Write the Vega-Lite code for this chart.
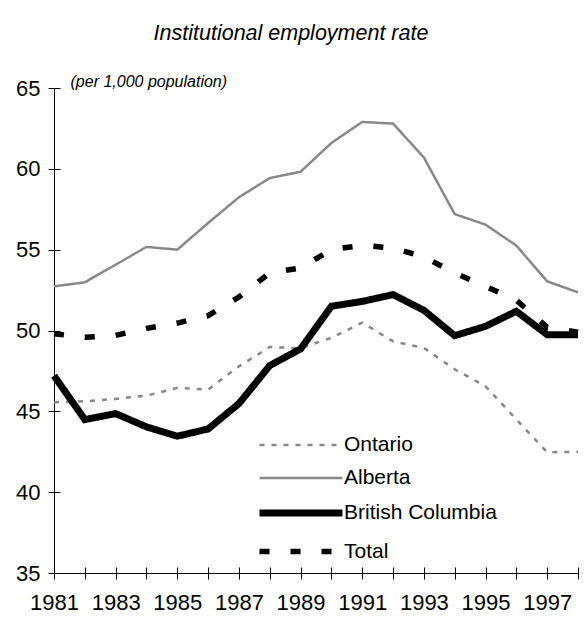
{
  "$schema": "https://vega.github.io/schema/vega-lite/v6.json",
  "width": 524,
  "height": 485,
  "autosize": "none",
  "padding": {"left": 54, "top": 88, "right": 7, "bottom": 45},
  "background": "white",
  "title": {
    "text": "Institutional employment rate",
    "font": "Liberation Sans",
    "fontSize": 21.5,
    "fontStyle": "italic",
    "fontWeight": "normal",
    "color": "#000000",
    "anchor": "middle",
    "frame": "group",
    "dx": -25,
    "offset": 29
  },
  "config": {
    "view": {"stroke": null},
    "font": "Liberation Sans",
    "axis": {
      "domainColor": "#000000",
      "tickColor": "#000000",
      "labelColor": "#000000",
      "labelFont": "Liberation Sans",
      "labelFontSize": 22,
      "grid": false,
      "tickSize": 6,
      "domainWidth": 1,
      "tickWidth": 1
    }
  },
  "data": {
    "values": [
      {"year": 1981, "region": "Ontario", "value": 45.56},
      {"year": 1982, "region": "Ontario", "value": 45.62},
      {"year": 1983, "region": "Ontario", "value": 45.77},
      {"year": 1984, "region": "Ontario", "value": 45.97},
      {"year": 1985, "region": "Ontario", "value": 46.45},
      {"year": 1986, "region": "Ontario", "value": 46.34},
      {"year": 1987, "region": "Ontario", "value": 47.78},
      {"year": 1988, "region": "Ontario", "value": 48.98},
      {"year": 1989, "region": "Ontario", "value": 48.9},
      {"year": 1990, "region": "Ontario", "value": 49.55},
      {"year": 1991, "region": "Ontario", "value": 50.49},
      {"year": 1992, "region": "Ontario", "value": 49.33},
      {"year": 1993, "region": "Ontario", "value": 48.92},
      {"year": 1994, "region": "Ontario", "value": 47.6},
      {"year": 1995, "region": "Ontario", "value": 46.55},
      {"year": 1996, "region": "Ontario", "value": 44.5},
      {"year": 1997, "region": "Ontario", "value": 42.47},
      {"year": 1998, "region": "Ontario", "value": 42.5},
      {"year": 1981, "region": "Alberta", "value": 52.73},
      {"year": 1982, "region": "Alberta", "value": 52.98},
      {"year": 1983, "region": "Alberta", "value": 54.07},
      {"year": 1984, "region": "Alberta", "value": 55.17},
      {"year": 1985, "region": "Alberta", "value": 55.0},
      {"year": 1986, "region": "Alberta", "value": 56.65},
      {"year": 1987, "region": "Alberta", "value": 58.24},
      {"year": 1988, "region": "Alberta", "value": 59.43},
      {"year": 1989, "region": "Alberta", "value": 59.82},
      {"year": 1990, "region": "Alberta", "value": 61.6},
      {"year": 1991, "region": "Alberta", "value": 62.9},
      {"year": 1992, "region": "Alberta", "value": 62.8},
      {"year": 1993, "region": "Alberta", "value": 60.7},
      {"year": 1994, "region": "Alberta", "value": 57.2},
      {"year": 1995, "region": "Alberta", "value": 56.55},
      {"year": 1996, "region": "Alberta", "value": 55.25},
      {"year": 1997, "region": "Alberta", "value": 53.04},
      {"year": 1998, "region": "Alberta", "value": 52.36},
      {"year": 1981, "region": "British Columbia", "value": 47.2},
      {"year": 1982, "region": "British Columbia", "value": 44.49},
      {"year": 1983, "region": "British Columbia", "value": 44.86},
      {"year": 1984, "region": "British Columbia", "value": 44.04},
      {"year": 1985, "region": "British Columbia", "value": 43.46},
      {"year": 1986, "region": "British Columbia", "value": 43.91},
      {"year": 1987, "region": "British Columbia", "value": 45.48},
      {"year": 1988, "region": "British Columbia", "value": 47.83},
      {"year": 1989, "region": "British Columbia", "value": 48.86},
      {"year": 1990, "region": "British Columbia", "value": 51.5},
      {"year": 1991, "region": "British Columbia", "value": 51.8},
      {"year": 1992, "region": "British Columbia", "value": 52.22},
      {"year": 1993, "region": "British Columbia", "value": 51.25},
      {"year": 1994, "region": "British Columbia", "value": 49.68},
      {"year": 1995, "region": "British Columbia", "value": 50.26},
      {"year": 1996, "region": "British Columbia", "value": 51.19},
      {"year": 1997, "region": "British Columbia", "value": 49.74},
      {"year": 1998, "region": "British Columbia", "value": 49.74},
      {"year": 1981, "region": "Total", "value": 49.8},
      {"year": 1982, "region": "Total", "value": 49.58},
      {"year": 1983, "region": "Total", "value": 49.7},
      {"year": 1984, "region": "Total", "value": 50.13},
      {"year": 1985, "region": "Total", "value": 50.46},
      {"year": 1986, "region": "Total", "value": 50.92},
      {"year": 1987, "region": "Total", "value": 52.07},
      {"year": 1988, "region": "Total", "value": 53.56},
      {"year": 1989, "region": "Total", "value": 53.87},
      {"year": 1990, "region": "Total", "value": 55.0},
      {"year": 1991, "region": "Total", "value": 55.27},
      {"year": 1992, "region": "Total", "value": 55.1},
      {"year": 1993, "region": "Total", "value": 54.55},
      {"year": 1994, "region": "Total", "value": 53.56},
      {"year": 1995, "region": "Total", "value": 52.73},
      {"year": 1996, "region": "Total", "value": 51.87},
      {"year": 1997, "region": "Total", "value": 50.2},
      {"year": 1998, "region": "Total", "value": 49.9}
    ]
  },
  "resolve": {"axis": {"x": "independent", "y": "independent"}},
  "layer": [
    {
      "mark": {"type": "line", "opacity": 0},
      "encoding": {
        "x": {
          "field": "year",
          "type": "quantitative",
          "scale": {"domain": [1981, 1998], "nice": false, "zero": false},
          "axis": {
            "orient": "bottom",
            "offset": -6,
            "title": null,
            "labels": false,
            "domain": false,
            "values": [1981,1982,1983,1984,1985,1986,1987,1988,1989,1990,1991,1992,1993,1994,1995,1996,1997,1998]
          }
        },
        "y": {
          "field": "value",
          "type": "quantitative",
          "scale": {"domain": [35, 65], "nice": false, "zero": false},
          "axis": {
            "orient": "left",
            "offset": -6,
            "title": null,
            "labels": false,
            "domain": false,
            "values": [35, 40, 45, 50, 55, 60, 65]
          }
        }
      }
    },
    {
      "mark": {"type": "line", "strokeCap": "butt", "strokeJoin": "miter"},
      "encoding": {
        "x": {
          "field": "year",
          "type": "quantitative",
          "scale": {"domain": [1981, 1998], "nice": false, "zero": false},
          "axis": {
            "orient": "bottom",
            "title": null,
            "values": [1981,1982,1983,1984,1985,1986,1987,1988,1989,1990,1991,1992,1993,1994,1995,1996,1997,1998],
            "format": "d",
            "labelExpr": "datum.value % 2 == 1 ? datum.label : ''",
            "labelPadding": 13,
            "labelOverlap": false,
            "labelFlush": false
          }
        },
        "y": {
          "field": "value",
          "type": "quantitative",
          "scale": {"domain": [35, 65], "nice": false, "zero": false},
          "axis": {
            "orient": "left",
            "values": [35, 40, 45, 50, 55, 60, 65],
            "title": "(per 1,000 population)",
            "titleFont": "Liberation Sans",
            "titleFontSize": 16,
            "titleFontStyle": "italic",
            "titleFontWeight": "normal",
            "titleColor": "#000000",
            "titleAngle": 0,
            "titleAlign": "left",
            "titleBaseline": "bottom",
            "titleX": 16,
            "titleY": 1,
            "labelPadding": 8
          }
        },
        "color": {
          "field": "region",
          "type": "nominal",
          "sort": ["Ontario", "Alberta", "British Columbia", "Total"],
          "scale": {
            "domain": ["Ontario", "Alberta", "British Columbia", "Total"],
            "range": ["#888888", "#888888", "#000000", "#000000"]
          },
          "legend": {
            "title": null,
            "orient": "none",
            "legendX": 233,
            "legendY": 345,
            "symbolType": "M-4,0H4",
            "symbolSize": 430,
            "labelFontSize": 21,
            "labelFont": "Liberation Sans",
            "labelColor": "#000000",
            "labelOffset": 29,
            "rowPadding": 11
          }
        },
        "strokeDash": {
          "field": "region",
          "type": "nominal",
          "sort": ["Ontario", "Alberta", "British Columbia", "Total"],
          "scale": {
            "domain": ["Ontario", "Alberta", "British Columbia", "Total"],
            "range": [[5, 7], [1, 0], [1, 0], [10, 21]]
          }
        },
        "strokeWidth": {
          "field": "region",
          "type": "nominal",
          "sort": ["Ontario", "Alberta", "British Columbia", "Total"],
          "scale": {
            "type": "ordinal",
            "domain": ["Ontario", "Alberta", "British Columbia", "Total"],
            "range": [2.5, 2.5, 7, 5.5]
          }
        }
      }
    }
  ]
}
